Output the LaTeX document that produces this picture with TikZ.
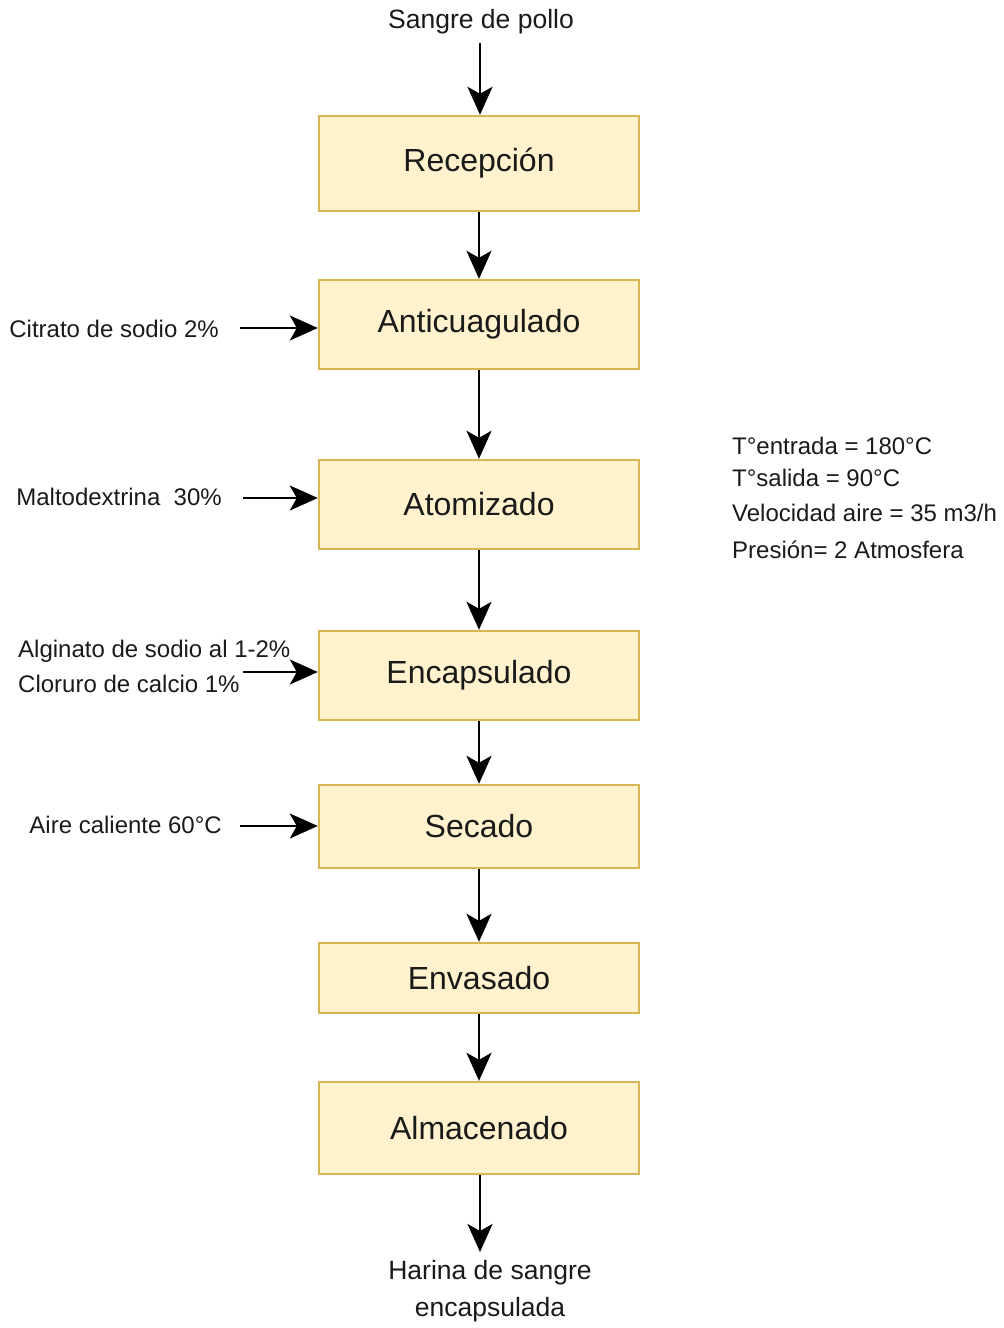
\documentclass[tikz,border=0pt]{standalone}
\usepackage{fontspec}
\setmainfont{Liberation Sans}
\usetikzlibrary{arrows.meta}
\definecolor{boxfill}{HTML}{FFF2CC}
\definecolor{boxline}{HTML}{D6B656}
\definecolor{txt}{HTML}{1A1A1A}
\begin{document}
\begin{tikzpicture}[x=1pt,y=-1pt,
  procbox/.style={draw=boxline,fill=boxfill,line width=2.4pt,minimum width=320pt,inner sep=0pt,text=txt,font=\fontsize{32}{38}\selectfont},
  lbl/.style={inner sep=0pt,text=txt,font=\fontsize{24}{35}\selectfont},
  biglbl/.style={inner sep=0pt,text=txt,font=\fontsize{26.5}{37}\selectfont},
  flow/.style={line width=2.5pt,-{Stealth[length=28pt,width=25pt,inset=7pt]}}]
\useasboundingbox (0,0) rectangle (1004,1328);
\node[procbox,minimum height=95pt] (rec) at (479,163.5) {Recepción};
\node[procbox,minimum height=89pt] (anti) at (479,324.5) {Anticuagulado};
\node[procbox,minimum height=89pt] (atom) at (479,504.5) {Atomizado};
\node[procbox,minimum height=89pt] (enc) at (479,675.5) {Encapsulado};
\node[procbox,minimum height=83pt] (sec) at (479,826.5) {Secado};
\node[procbox,minimum height=70pt] (env) at (479,978) {Envasado};
\node[procbox,minimum height=92pt] (alm) at (479,1128) {Almacenado};
% top and bottom
\node[biglbl] (src) at (481,22) {Sangre de pollo};
\coordinate (srcend) at (480,43);
\node[biglbl,align=center] (out) at (490,1291) {Harina de sangre\\encapsulada};
\coordinate (outend) at (480,1252);
\draw[flow] (srcend) -- (srcend |- rec.north);
\draw[flow] (rec) -- (anti);
\draw[flow] (anti) -- (atom);
\draw[flow] (atom) -- (enc);
\draw[flow] (enc) -- (sec);
\draw[flow] (sec) -- (env);
\draw[flow] (env) -- (alm);
\draw[flow] (alm.south -| outend) -- (outend);
% side inputs
\node[lbl,anchor=east] (cit) at (219,329) {Citrato de sodio 2\%};
\coordinate (citst) at (240,328);
\draw[flow] (citst) -- (citst -| anti.west);
\node[lbl,anchor=east] (mal) at (222,497) {Maltodextrina\ \ 30\%};
\coordinate (malst) at (243,498);
\draw[flow] (malst) -- (malst -| atom.west);
\node[lbl,anchor=west,align=left] (alg) at (18,666) {Alginato de sodio al 1-2\%\\Cloruro de calcio 1\%};
\coordinate (algst) at (243,672);
\draw[flow] (algst) -- (algst -| enc.west);
\node[lbl,anchor=east] (aire) at (222,825) {Aire caliente 60°C};
\coordinate (airest) at (240,826);
\draw[flow] (airest) -- (airest -| sec.west);
% right notes
\node[lbl,anchor=west] (t1) at (732,446) {T°entrada = 180°C};
\node[lbl,anchor=west] (t2) at (732,478) {T°salida = 90°C};
\node[lbl,anchor=west] (t3) at (732,513) {Velocidad aire = 35 m3/h};
\node[lbl,anchor=west] (t4) at (732,550) {Presión= 2 Atmosfera};
\end{tikzpicture}
\end{document}
